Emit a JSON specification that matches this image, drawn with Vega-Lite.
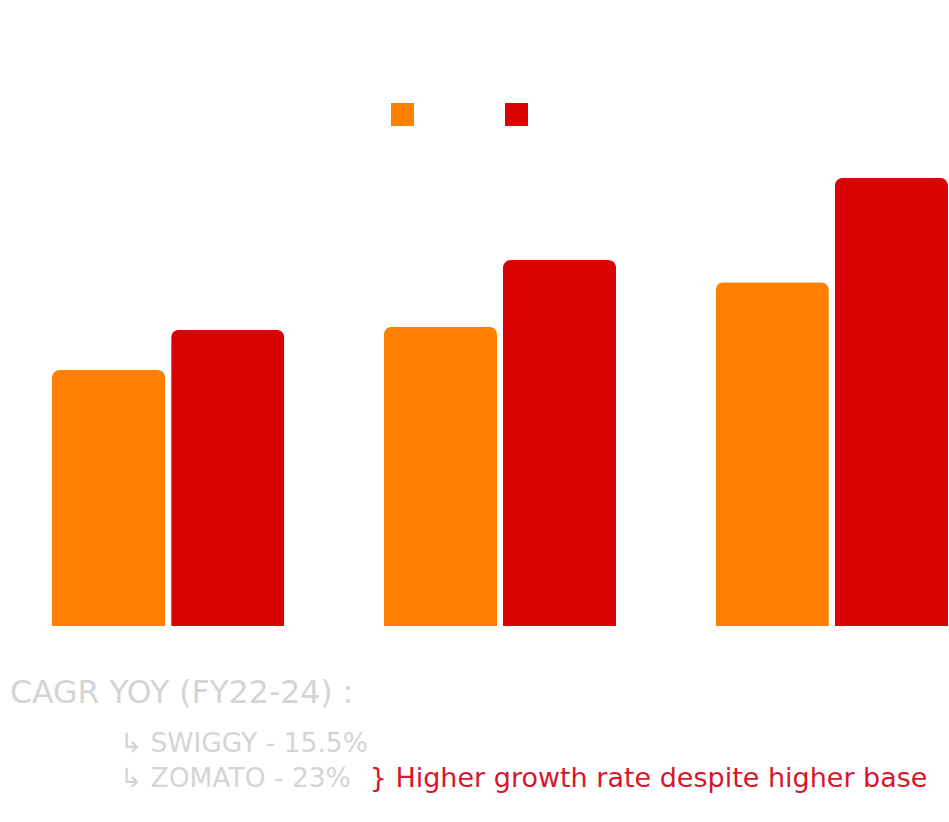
{
  "$schema": "https://vega.github.io/schema/vega-lite/v6.json",
  "background": "white",
  "padding": {"left": 10, "top": 103, "right": 1, "bottom": 5},
  "config": {"view": {"stroke": null}, "concat": {"spacing": 4}},
  "datasets": {
    "bars": [
      {"year": "FY22", "company": "Swiggy", "gov": 18400},
      {"year": "FY22", "company": "Zomato", "gov": 21300},
      {"year": "FY23", "company": "Swiggy", "gov": 21500},
      {"year": "FY23", "company": "Zomato", "gov": 26300},
      {"year": "FY24", "company": "Swiggy", "gov": 24700},
      {"year": "FY24", "company": "Zomato", "gov": 32200}
    ],
    "notes": [
      {"note": "CAGR YOY (FY22-24) :", "col": 0, "row": 4.4, "kind": "heading"},
      {"note": "↳ SWIGGY - 15.5%", "col": 11.7, "row": 9.4, "kind": "item"},
      {"note": "↳ ZOMATO - 23%", "col": 11.7, "row": 12.9, "kind": "item"},
      {"note": "} Higher growth rate despite higher base", "col": 38.3, "row": 12.9, "kind": "remark"}
    ]
  },
  "vconcat": [
    {
      "width": 896,
      "height": 487,
      "data": {"name": "bars"},
      "mark": {"type": "bar", "cornerRadiusTopLeft": 8, "cornerRadiusTopRight": 8},
      "encoding": {
        "x": {
          "field": "year", "type": "nominal", "sort": ["FY22", "FY23", "FY24"],
          "scale": {"paddingInner": 0.3, "paddingOuter": 0},
          "axis": {"title": null, "labelColor": "white", "domain": false, "ticks": false, "labelAngle": 0, "labelFontSize": 14, "minExtent": 20, "maxExtent": 20}
        },
        "xOffset": {"field": "company", "type": "nominal", "scale": {"paddingInner": 0.05, "paddingOuter": 0}},
        "y": {"field": "gov", "type": "quantitative", "scale": {"domain": [0, 35000], "nice": false}, "axis": null},
        "color": {
          "field": "company", "type": "nominal",
          "scale": {"domain": ["Swiggy", "Zomato"], "range": ["#FF8000", "#DA0303"]},
          "legend": {
            "orient": "none", "legendX": 339, "legendY": -36, "direction": "horizontal", "title": null,
            "symbolType": "square", "symbolSize": 529, "symbolStrokeWidth": 0, "symbolOpacity": 1,
            "labelColor": "white", "labelFontSize": 16, "columnPadding": 35
          }
        }
      }
    },
    {
      "width": 896,
      "height": 160,
      "data": {"name": "notes"},
      "encoding": {
        "x": {"field": "col", "type": "quantitative", "scale": {"domain": [0, 100], "range": [-42, 897]}, "axis": null},
        "y": {"field": "row", "type": "quantitative", "scale": {"domain": [0, 16], "reverse": true}, "axis": null},
        "text": {"field": "note"}
      },
      "layer": [
        {
          "transform": [{"filter": "datum.kind === 'heading'"}],
          "mark": {"type": "text", "align": "left", "baseline": "middle", "font": "DejaVu Sans", "fontSize": 31.5, "color": "#D4D4D4"}
        },
        {
          "transform": [{"filter": "datum.kind === 'item'"}],
          "mark": {"type": "text", "align": "left", "baseline": "middle", "font": "DejaVu Sans", "fontSize": 26.5, "color": "#D4D4D4"}
        },
        {
          "transform": [{"filter": "datum.kind === 'remark'"}],
          "mark": {"type": "text", "align": "left", "baseline": "middle", "font": "DejaVu Sans", "fontSize": 27, "color": "#D8152B"}
        }
      ]
    }
  ],
  "resolve": {"scale": {"color": "independent"}}
}
